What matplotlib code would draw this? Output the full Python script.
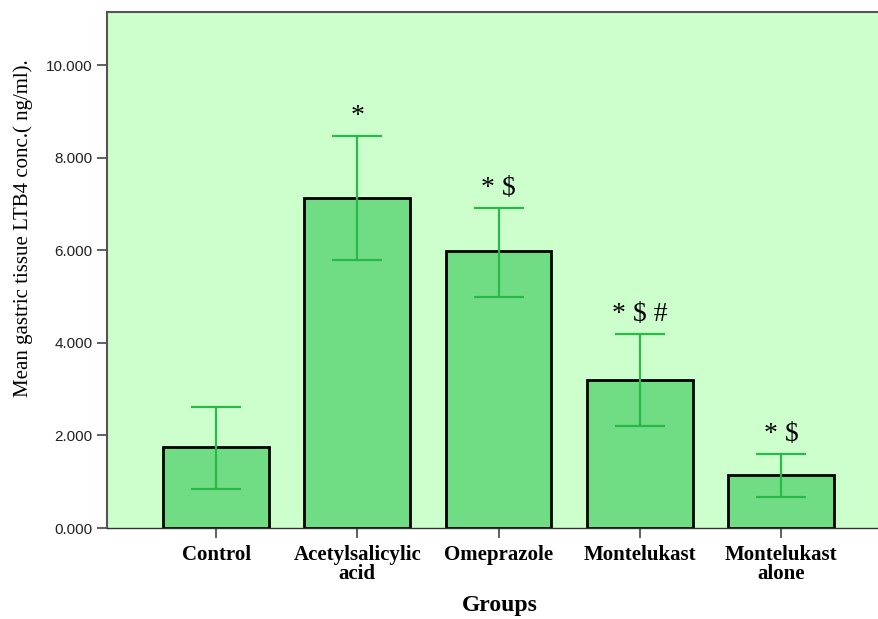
import numpy as np
import matplotlib.pyplot as plt

# Data
groups = ['Control', 'Acetylsalicylic\nacid', 'Omeprazole', 'Montelukast', 'Montelukast\nalone']
means = [1.75, 7.13, 5.98, 3.20, 1.15]
err_low = [0.85, 5.80, 4.99, 2.20, 0.68]
err_high = [2.62, 8.47, 6.92, 4.20, 1.60]
marks = ['', '*', '* $', '* $ #', '* $']

fig = plt.figure(figsize=(8.79, 6.19), dpi=100)
ax = fig.add_axes([107 / 879, 1 - 528 / 619, 1 - 107 / 879, (528 - 12) / 619])
ax.set_facecolor('#ccffcc')

x = np.arange(len(groups))
means = np.array(means)
yerr = np.array([means - np.array(err_low), np.array(err_high) - means])

ax.bar(x, means, width=0.75, color='#70dc84', edgecolor='black', linewidth=2.0, zorder=2)
ax.errorbar(x, means, yerr=yerr, fmt='none', ecolor='#2ab84a', elinewidth=1.6,
            capsize=18, capthick=1.6, zorder=3)

for xi, top, m in zip(x, err_high, marks):
    if m:
        ax.annotate(m, (xi, top), xytext=(0, 5), textcoords='offset points',
                    ha='center', va='bottom', fontsize=20, family='Liberation Serif')

ax.set_xlim(-0.773, 4.695)
ax.set_ylim(0, 11.15)
ax.set_yticks([0, 2, 4, 6, 8, 10])
ax.set_yticklabels(['%.3f' % v for v in [0, 2, 4, 6, 8, 10]],
                   fontsize=11, family='Liberation Sans', color='#222222')
ax.set_xticks(x)
ax.set_xticklabels(groups, fontsize=15, fontweight='bold', family='Liberation Serif',
                   linespacing=0.95)
ax.tick_params(axis='both', direction='out', length=7, width=1.2, color='#444444')
ax.tick_params(axis='x', pad=5)

for side in ['left', 'top']:
    ax.spines[side].set_color('#555555')
    ax.spines[side].set_linewidth(1.5)
ax.spines['bottom'].set_color('#333333')
ax.spines['bottom'].set_linewidth(1.0)
ax.spines['right'].set_visible(False)

ax.set_ylabel('Mean gastric tissue LTB4 conc.( ng/ml).', fontsize=15,
              family='Liberation Serif', va='center')
ax.yaxis.set_label_coords(-(107 - 23) / 772, (528 - 228) / 516)
ax.set_xlabel('Groups', fontsize=17, fontweight='bold', family='Liberation Serif')
ax.xaxis.set_label_coords((500 - 107) / 772, -(606 - 528) / 516)
ax.xaxis.label.set_va('center')

fig.savefig('out.png', dpi=100)
